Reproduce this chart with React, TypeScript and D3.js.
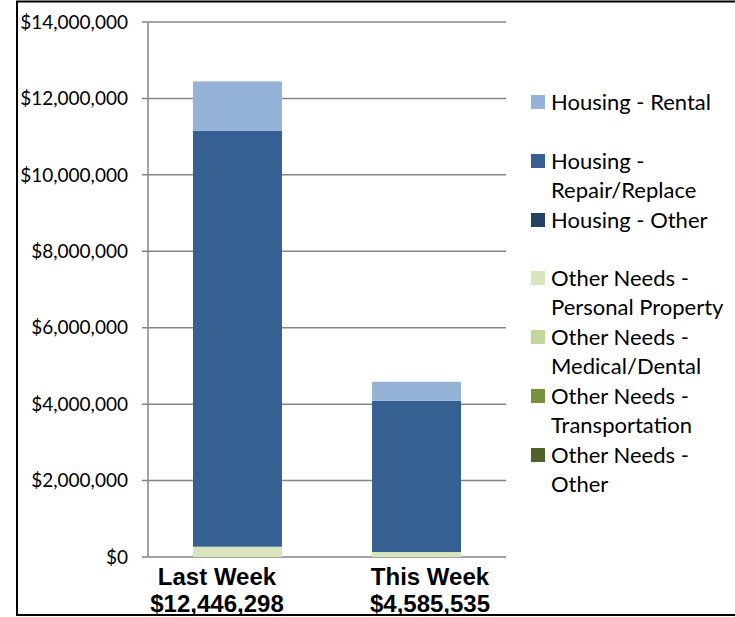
import React, { useEffect, useRef } from 'react';
import * as d3 from 'd3';

// periods and their totals
const periods = ['Last Week', 'This Week'];
const totals = ['$12,446,298', '$4,585,535'];

// series in stacking order (bottom first)
const seriesNames = [
  'Other Needs - Other',
  'Other Needs - Transportation',
  'Other Needs - Medical/Dental',
  'Other Needs - Personal Property',
  'Housing - Other',
  'Housing - Repair/Replace',
  'Housing - Rental',
];
const seriesColors = ['#4f6228', '#76933c', '#c4d79b', '#d8e4bc', '#244062', '#366092', '#95b3d7'];
const lastWeek = [0, 0, 0, 270000, 0, 10880000, 1296298];
const thisWeek = [0, 0, 0, 130000, 0, 3960000, 495535];

const yTicks = [0, 2000000, 4000000, 6000000, 8000000, 10000000, 12000000, 14000000];

// legend lines, top to bottom (legend shows series reversed)
const legendItems: { name: string; lines: string[] }[] = [
  { name: 'Housing - Rental', lines: ['Housing - Rental'] },
  { name: 'Housing - Repair/Replace', lines: ['Housing -', 'Repair/Replace'] },
  { name: 'Housing - Other', lines: ['Housing - Other'] },
  { name: 'Other Needs - Personal Property', lines: ['Other Needs -', 'Personal Property'] },
  { name: 'Other Needs - Medical/Dental', lines: ['Other Needs -', 'Medical/Dental'] },
  { name: 'Other Needs - Transportation', lines: ['Other Needs -', 'Transportation'] },
  { name: 'Other Needs - Other', lines: ['Other Needs -', 'Other'] },
];
const legendTops = [102, 161, 220, 278, 337, 396, 455];

const W = 735;
const H = 617;

const App: React.FC = () => {
  const svgRef = useRef<SVGSVGElement>(null);

  useEffect(() => {
    if (!svgRef.current) return;
    const svg = d3.select(svgRef.current);
    svg.selectAll('*').remove();

    const left = 148;
    const right = 506;
    const top = 22;
    const bottom = 557;

    const y = d3.scaleLinear().domain([0, 14000000]).range([bottom, top]);
    const x = d3.scaleBand().domain(periods).range([left, right]).paddingInner(0.503).paddingOuter(0.2514);
    // category labels sit a little off the bar centres, like the original
    const xLabel = d3.scalePoint().domain(periods).range([217, 430]);

    // frame
    svg.append('path')
      .attr('d', `M${W + 2},1.5 H17 V615 H${W + 2}`)
      .attr('fill', 'none')
      .attr('stroke', '#000')
      .attr('stroke-width', 2);

    // gridlines
    svg.append('g')
      .selectAll('line')
      .data(yTicks)
      .join('line')
      .attr('x1', left - 6)
      .attr('x2', right)
      .attr('y1', (d) => y(d))
      .attr('y2', (d) => y(d))
      .attr('stroke', '#868686')
      .attr('stroke-width', 1.5);

    // y axis line
    svg.append('line')
      .attr('x1', left).attr('x2', left)
      .attr('y1', top).attr('y2', bottom)
      .attr('stroke', '#868686')
      .attr('stroke-width', 1.5);

    // y labels
    const fmt = d3.format('$,');
    svg.append('g')
      .selectAll('text')
      .data(yTicks)
      .join('text')
      .attr('x', 128)
      .attr('y', (d) => y(d))
      .attr('dy', '0.35em')
      .attr('text-anchor', 'end')
      .attr('font-family', 'Lato, "Open Sans", sans-serif')
      .attr('font-size', 19)
      .attr('fill', '#000')
      .text((d) => fmt(d));

    // stacked bars
    const rows = periods.map((p, i) => {
      const vals = i === 0 ? lastWeek : thisWeek;
      const row: Record<string, number | string> = { period: p };
      seriesNames.forEach((s, j) => { row[s] = vals[j]; });
      return row;
    });
    const stack = d3.stack<Record<string, number | string>>().keys(seriesNames)
      .value((d, k) => d[k] as number);
    const stacked = stack(rows);

    const g = svg.append('g');
    stacked.forEach((layer, li) => {
      g.selectAll(`rect.s${li}`)
        .data(layer)
        .join('rect')
        .attr('class', `s${li}`)
        .attr('x', (d) => x(d.data.period as string)!)
        .attr('width', x.bandwidth())
        .attr('y', (d) => y(d[1]))
        .attr('height', (d) => Math.max(0, y(d[0]) - y(d[1])))
        .attr('fill', seriesColors[li]);
    });

    // x labels
    const xl = svg.append('g')
      .attr('font-family', '"Liberation Sans", Arial, sans-serif')
      .attr('font-weight', 'bold')
      .attr('font-size', 24)
      .attr('text-anchor', 'middle')
      .attr('fill', '#000');
    periods.forEach((p, i) => {
      const cx = xLabel(p)!;
      xl.append('text').attr('x', cx).attr('y', 585).text(p);
      xl.append('text').attr('x', cx).attr('y', 612).text(totals[i]);
    });

    // legend
    const lg = svg.append('g')
      .attr('font-family', 'Lato, "Open Sans", sans-serif')
      .attr('font-size', 22)
      .attr('fill', '#000');
    legendItems.forEach((item, i) => {
      const idx = seriesNames.indexOf(item.name);
      const yy = legendTops[i];
      lg.append('rect')
        .attr('x', 531).attr('y', yy - 7)
        .attr('width', 14).attr('height', 14)
        .attr('fill', seriesColors[idx]);
      item.lines.forEach((ln, k) => {
        lg.append('text')
          .attr('x', 551)
          .attr('y', yy + k * 29)
          .attr('dy', '0.35em')
          .text(ln);
      });
    });
  }, []);

  return (
    <svg
      ref={svgRef}
      width={W}
      height={H}
      style={{ position: 'absolute', left: 0, top: 0, background: '#fff' }}
    />
  );
};

export default App;
